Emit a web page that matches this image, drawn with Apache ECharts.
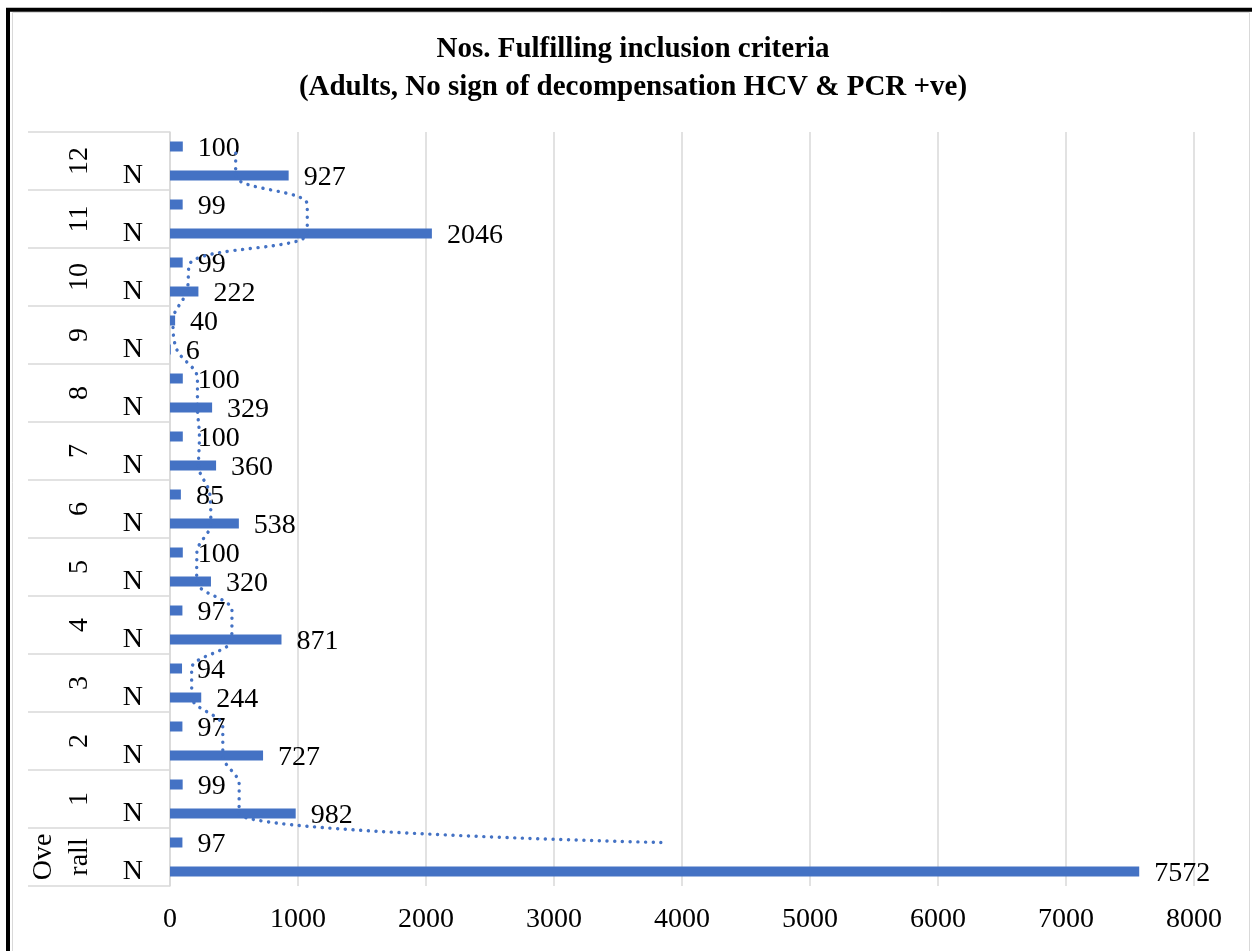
<!DOCTYPE html>
<html>
<head>
<meta charset="utf-8">
<title>Nos. Fulfilling inclusion criteria</title>
<script src="https://cdn.jsdelivr.net/npm/echarts@6/dist/echarts.min.js"></script>
<style>
  html, body { margin: 0; padding: 0; background: #fff; }
  #chart { width: 1252px; height: 951px; }
</style>
</head>
<body>
<div id="chart"></div>
<script>
// Outer category groups, listed bottom to top
const groupIds = ['Overall', '1', '2', '3', '4', '5', '6', '7', '8', '9', '10', '11', '12'];
const groupLabels = ['Ove\nrall', '1', '2', '3', '4', '5', '6', '7', '8', '9', '10', '11', '12'];

// Two rows per group: the count row "N" and an unlabeled row above it
const rowIds = [
  'Overall-N', 'Overall-p', '1-N', '1-p', '2-N', '2-p', '3-N', '3-p', '4-N', '4-p',
  '5-N', '5-p', '6-N', '6-p', '7-N', '7-p', '8-N', '8-p', '9-N', '9-p',
  '10-N', '10-p', '11-N', '11-p', '12-N', '12-p'
];
const rowLabels = [
  'N', '', 'N', '', 'N', '', 'N', '', 'N', '', 'N', '', 'N', '',
  'N', '', 'N', '', 'N', '', 'N', '', 'N', '', 'N', ''
];

// Bar values per row
const values = [
  7572, 97, 982, 99, 727, 97, 244, 94, 871, 97, 320, 100, 538, 85,
  360, 100, 329, 100, 6, 40, 222, 99, 2046, 99, 927, 100
];

// Two-period moving average trend line (first row has no value)
const movingAvg = [
  null, 3834.5, 539.5, 540.5, 413, 412, 170.5, 169, 482.5, 484, 208.5, 210, 319,
  311.5, 222.5, 230, 214.5, 214.5, 53, 23, 131, 160.5, 1072.5, 1072.5, 513, 513.5
];

// Value axis range
const xMin = 0;
const xMax = 8000;
const xStep = 1000;

const serif = "'Liberation Serif', 'Times New Roman', serif";
const barColor = '#4472C4';
const gridColor = '#d9d9d9';

const chart = echarts.init(document.getElementById('chart'), null, { renderer: 'canvas' });

chart.setOption({
  backgroundColor: '#fff',
  animation: false,
  title: {
    text: 'Nos. Fulfilling inclusion criteria\n(Adults, No sign of decompensation HCV & PCR +ve)',
    left: 628,
    top: 26,
    textAlign: 'center',
    padding: 5,
    textStyle: {
      fontFamily: serif,
      fontWeight: 'bold',
      fontSize: 29,
      lineHeight: 38,
      color: '#000'
    }
  },
  graphic: [
    {
      type: 'rect',
      silent: true,
      shape: { x: 12.5, y: 12.5, width: 1237, height: 1000 },
      style: { fill: 'none', stroke: gridColor, lineWidth: 1 }
    },
    {
      type: 'rect',
      silent: true,
      shape: { x: 8, y: 9.8, width: 1300, height: 1000 },
      style: { fill: 'none', stroke: '#000', lineWidth: 4 }
    }
  ],
  grid: { left: 170, right: 58, top: 132, bottom: 65, containLabel: false },
  xAxis: {
    type: 'value',
    min: xMin,
    max: xMax,
    interval: xStep,
    axisLine: { show: false },
    axisTick: { show: false },
    axisLabel: {
      margin: 20,
      fontFamily: serif,
      fontSize: 28,
      color: '#000',
      formatter: (v) => String(v)
    },
    splitLine: { show: true, lineStyle: { color: gridColor, width: 1.5 } }
  },
  yAxis: [
    {
      type: 'category',
      position: 'left',
      data: rowIds,
      axisLine: { show: true, lineStyle: { color: gridColor, width: 1.5 } },
      axisTick: { show: false },
      axisLabel: {
        interval: 0,
        margin: 27,
        fontFamily: serif,
        fontSize: 28,
        color: '#000',
        formatter: (v, i) => rowLabels[i]
      },
      splitLine: { show: false }
    },
    {
      type: 'category',
      position: 'left',
      data: groupIds,
      axisLine: { show: false },
      axisTick: { show: true, length: 142, lineStyle: { color: gridColor, width: 1.5 } },
      axisLabel: {
        interval: 0,
        rotate: 90,
        margin: 72,
        fontFamily: serif,
        fontSize: 28,
        lineHeight: 36,
        color: '#000',
        formatter: (v, i) => groupLabels[i]
      },
      splitLine: { show: false }
    }
  ],
  series: [
    {
      type: 'bar',
      yAxisIndex: 0,
      data: values,
      barWidth: 10,
      itemStyle: { color: barColor },
      label: {
        show: true,
        position: 'right',
        distance: 15,
        offset: [0, 2],
        fontFamily: serif,
        fontSize: 28,
        color: '#000'
      },
      z: 2
    },
    {
      type: 'line',
      yAxisIndex: 0,
      data: movingAvg,
      smooth: 0.35,
      symbol: 'none',
      lineStyle: {
        color: barColor,
        width: 3.4,
        type: [0.1, 7.6],
        cap: 'round'
      },
      z: 3
    }
  ]
});
</script>
</body>
</html>
